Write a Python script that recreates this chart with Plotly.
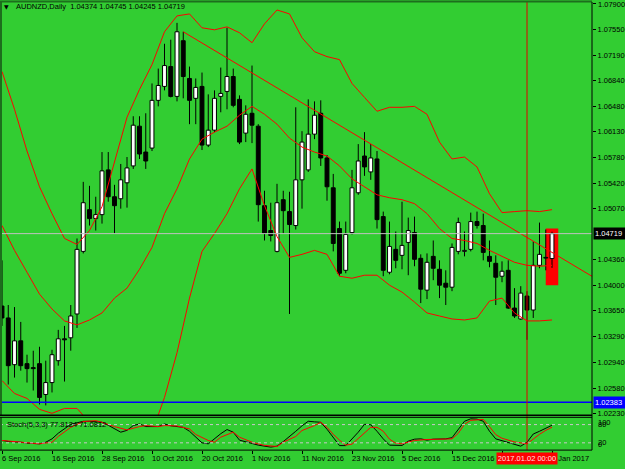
import plotly.graph_objects as go
import pandas as pd

# ---------------- data ----------------
dates = pd.bdate_range("2016-09-06", "2017-01-06")
bar_idx = list(range(len(dates)))

opens = [1.03716,1.03551,1.02904,1.03234,1.02918,1.02863,1.02918,1.02491,1.02656,1.02959,
         1.03262,1.03276,1.03606,1.04473,1.05051,1.04927,1.04982,1.05602,1.05230,1.05202,
         1.05423,1.05657,1.06207,1.05849,1.05904,1.06565,1.06758,1.07033,1.06620,1.07391,
         1.06868,1.06593,1.06758,1.05946,1.06152,1.06620,1.06689,1.06895,1.06579,1.06111,
         1.06386,1.06207,1.05106,1.04762,1.04473,1.05189,1.05024,1.04831,1.05464,1.05602,
         1.06097,1.06386,1.05767,1.05354,1.04789,1.04211,1.04734,1.05285,1.05794,1.05574,
         1.05753,1.04955,1.04184,1.04501,1.04418,1.04597,1.04734,1.04377,1.03936,1.04404,
         1.04225,1.04032,1.03977,1.04473,1.04473,1.04501,1.04886,1.04831,1.04404,1.04308,
         1.04129,1.04211,1.03688,1.03537,1.03854,1.03661,1.04280,1.04390,1.04374]
highs = [1.04349,1.03730,1.03702,1.03496,1.03042,1.03097,1.03152,1.02959,1.03110,1.03386,
         1.03441,1.03730,1.04652,1.05436,1.05381,1.05230,1.05849,1.05849,1.05395,1.05684,
         1.05780,1.06345,1.06345,1.06386,1.06799,1.07005,1.07349,1.07405,1.07638,1.07515,
         1.07033,1.06868,1.06950,1.06648,1.06703,1.07019,1.07570,1.07005,1.06634,1.06496,
         1.07047,1.06235,1.05313,1.05147,1.05409,1.05313,1.05299,1.06469,1.06138,1.06579,
         1.06551,1.06565,1.05808,1.05546,1.04886,1.04886,1.05602,1.05959,1.06125,1.05959,
         1.05863,1.05024,1.04886,1.04748,1.05161,1.04941,1.04955,1.04432,1.04445,1.04624,
         1.04349,1.04211,1.04583,1.04941,1.04748,1.05010,1.05024,1.04996,1.04624,1.04418,
         1.04335,1.04349,1.03964,1.03991,1.03922,1.04611,1.04872,1.04776,1.04745]
lows = [1.03441,1.02629,1.02725,1.02821,1.02656,1.02546,1.02353,1.02340,1.02519,1.02890,
        1.02670,1.03097,1.03413,1.04445,1.04831,1.04762,1.04858,1.05161,1.04721,1.05065,
        1.05079,1.05615,1.05753,1.05615,1.05863,1.06482,1.06703,1.06606,1.06551,1.06593,
        1.06235,1.06235,1.05877,1.05918,1.06125,1.06400,1.06441,1.06469,1.05959,1.05987,
        1.05973,1.04886,1.04624,1.04611,1.04459,1.04721,1.03606,1.04776,1.05065,1.05574,
        1.06028,1.05657,1.05175,1.04473,1.04129,1.04170,1.04707,1.05257,1.05519,1.05464,
        1.04789,1.04129,1.04156,1.04239,1.04225,1.04143,1.04267,1.03757,1.03812,1.04074,
        1.03826,1.03730,1.03922,1.04432,1.04404,1.04473,1.04789,1.04349,1.04253,1.03730,
        1.04046,1.03675,1.03551,1.03523,1.03248,1.03551,1.04239,1.04211,1.04245]
closes = [1.03551,1.02890,1.03234,1.02890,1.02849,1.02849,1.02450,1.02656,1.03042,1.03262,
          1.03248,1.03578,1.04501,1.05147,1.04927,1.04982,1.05588,1.05230,1.05106,1.05464,
          1.05629,1.06221,1.05822,1.05725,1.06565,1.06771,1.07047,1.06620,1.07515,1.06895,
          1.06565,1.06744,1.05946,1.06152,1.06593,1.06661,1.06895,1.06496,1.05987,1.06372,
          1.06221,1.05120,1.04721,1.04693,1.05147,1.05037,1.04845,1.05464,1.05987,1.06097,
          1.06359,1.05767,1.05368,1.04583,1.04170,1.04707,1.05354,1.05725,1.05643,1.05767,
          1.04913,1.04211,1.04542,1.04349,1.04556,1.04762,1.04363,1.03950,1.04322,1.04239,
          1.04005,1.03977,1.04528,1.04872,1.04487,1.04886,1.04831,1.04459,1.04335,1.04115,
          1.04198,1.03688,1.03578,1.03895,1.03661,1.04280,1.04432,1.04380,1.04719]

band_idx = list(range(0, 89, 2))
bb_upper = [1.06964,1.06441,1.05863,1.05368,1.04996,1.04652,1.04569,1.04762,1.05092,1.05725,
            1.06331,1.06716,1.07060,1.07515,1.07735,1.07762,1.07570,1.07542,1.07583,1.07501,
            1.07363,1.07625,1.07817,1.07762,1.07432,1.07239,1.07171,1.07129,1.06799,1.06606,
            1.06414,1.06469,1.06469,1.06482,1.06372,1.05987,1.05753,1.05780,1.05643,1.05271,
            1.05010,1.05024,1.05037,1.05024,1.05051]
bb_middle = [1.04831,1.04487,1.04184,1.03881,1.03675,1.03510,1.03455,1.03523,1.03620,1.03826,
             1.03964,1.04225,1.04528,1.04996,1.05340,1.05753,1.06028,1.06125,1.06207,1.06359,
             1.06482,1.06372,1.06235,1.06042,1.05918,1.05849,1.05794,1.05657,1.05478,1.05368,
             1.05257,1.05216,1.05189,1.05134,1.04996,1.04789,1.04652,1.04624,1.04583,1.04487,
             1.04404,1.04322,1.04280,1.04267,1.04280]
bb_lower = [1.02684,1.02505,1.02436,1.02285,1.02230,1.02298,1.02298,1.02106,1.01968,1.01831,
            1.01693,1.01734,1.01968,1.02450,1.03069,1.03826,1.04473,1.04721,1.04996,1.05340,
            1.05615,1.05106,1.04679,1.04390,1.04432,1.04487,1.04432,1.04129,1.04101,1.04143,
            1.04143,1.04005,1.03909,1.03771,1.03620,1.03578,1.03537,1.03523,1.03551,1.03785,
            1.03826,1.03620,1.03510,1.03510,1.03523]

stoch_k_idx = [0,1,3,4,6,7,8,9,11,13,14,16,17,19,20,21,22,23,25,26,27,29,30,31,32,33,34,35,36,37,
               38,40,41,43,44,45,46,47,48,49,50,51,52,53,54,55,56,57,58,59,60,61,62,64,65,66,67,
               68,69,71,72,73,74,75,76,77,78,79,80,81,82,83,84,85,86,87,88]
stoch_k = [27.8,24.5,22,19,16.7,22,33,51.6,81,90.8,90.8,87.6,77.8,55,61,76.8,82,73.5,73.5,82,
           76,71,58,38.6,20,16.7,35,50,63.7,55,28.8,16.7,12.4,5.9,9,24,40,58,76,91,
           89,87.6,64.7,38.6,10.8,10.8,32,55,81,79.4,58,33,12.4,11.4,25.5,32,33,28.8,32,33,
           37,64.7,91,99,98,91,58,33,27,19,14,9,22,49,58,68,77.8124]
stoch_d_idx = [0,3,6,8,9,11,13,15,16,18,20,22,23,25,26,28,30,31,33,34,35,37,38,40,42,44,45,47,48,50,
               51,52,53,54,55,56,57,58,59,60,61,62,63,64,66,68,70,72,73,74,75,77,78,79,80,82,84,
               85,86,87,88]
stoch_d = [27.8,22,16.7,22,41,71,90,93,87.6,73.5,62.4,73.5,76.8,73.5,76.8,75.5,65.7,47.4,27.8,22,
           38.6,55,38.6,22,11.4,8,22,41,60.5,76.8,87.6,71,48,28.8,12.4,15.7,35,55,71,71,
           58,32,19,16.7,27.8,31,33,33,51.6,81,94,97,73,47,35,23,16.7,33,48,61,71.0812]
stoch_levels = [80, 20]

trend_idx = [29, 88]
trend_price = [1.07515, 1.04459]

current_price = 1.04719
blue_level = 1.02383
rect_idx = [87, 89]
rect_price = [1.04005, 1.04789]
vline_idx = 84
vline_label = "2017.01.02 00:00"

price_ticks = [1.07900, 1.07550, 1.07190, 1.06840, 1.06480, 1.06130, 1.05780, 1.05420, 1.05070,
               1.04360, 1.04000, 1.03650, 1.03290, 1.02940, 1.02580, 1.02230]
date_tick_idx = [0, 8, 16, 24, 32, 40, 48, 56, 64, 72, 80, 88]
date_tick_text = ["6 Sep 2016", "16 Sep 2016", "28 Sep 2016", "10 Oct 2016", "20 Oct 2016",
                  "1 Nov 2016", "11 Nov 2016", "23 Nov 2016", "5 Dec 2016", "15 Dec 2016",
                  "", "6 Jan 2017"]   # the 27 Dec label is hidden under the crosshair date box
title_text = "AUDNZD,Daily  1.04374 1.04745 1.04245 1.04719"
stoch_text = "Stoch(5,3,3) 77.8124 71.0812"

# ---------------- geometry ----------------
W, H = 625, 469
RIGHT = 592
MAIN_TOP, MAIN_BOT = 2, 418
SUB_TOP, SUB_BOT = 420, 453
BAR_PX = 6.25
X0_PX = 2
PX_PER_PRICE = 7266.0
PRICE_AT_4 = 1.07900
STOCH_PX = 0.306
STOCH_ZERO_PX = 451.8

def px(x):
    return x / W

def py(y):
    return 1 - y / H

x_range = [(0 - X0_PX) / BAR_PX, (RIGHT - X0_PX) / BAR_PX]
y_range = [PRICE_AT_4 - (MAIN_BOT - 4) / PX_PER_PRICE, PRICE_AT_4 + (4 - MAIN_TOP) / PX_PER_PRICE]
y2_range = [-(SUB_BOT - STOCH_ZERO_PX) / STOCH_PX, (STOCH_ZERO_PX - SUB_TOP) / STOCH_PX]

BG = "#32CD32"
FONT = "Liberation Sans"
FS = 7.5

fig = go.Figure()

# rectangle behind candles
fig.add_shape(type="rect", xref="x", yref="y", x0=rect_idx[0], x1=rect_idx[1],
              y0=rect_price[0], y1=rect_price[1], fillcolor="#FF0000", line_width=0, layer="below")

# wicks (outside the body only)
wx, wy = [], []
for i, o, h, l, c in zip(bar_idx, opens, highs, lows, closes):
    top, bot = max(o, c), min(o, c)
    wx += [i, i, None, i, i, None]
    wy += [top, h, None, l, bot, None]
fig.add_trace(go.Scatter(x=wx, y=wy, mode="lines", line=dict(color="black", width=1),
                         hoverinfo="skip", showlegend=False))

# bodies
base = [min(o, c) for o, c in zip(opens, closes)]
height = [max(abs(c - o), 0.00003) for o, c in zip(opens, closes)]
colors = ["white" if c >= o else "black" for o, c in zip(opens, closes)]
fig.add_trace(go.Bar(x=bar_idx, y=height, base=base, width=0.62, opacity=1,
                     marker=dict(color=colors, line=dict(color="black", width=1)),
                     hoverinfo="skip", showlegend=False))

# bollinger bands
for band in (bb_upper, bb_middle, bb_lower):
    fig.add_trace(go.Scatter(x=band_idx, y=band, mode="lines", line=dict(color="#FF0000", width=1),
                             hoverinfo="skip", showlegend=False))

# trend line (ray to the right)
slope = (trend_price[1] - trend_price[0]) / (trend_idx[1] - trend_idx[0])
tx = [trend_idx[0], x_range[1]]
ty = [trend_price[0], trend_price[0] + slope * (x_range[1] - trend_idx[0])]
fig.add_trace(go.Scatter(x=tx, y=ty, mode="lines", line=dict(color="#FF0000", width=1),
                         hoverinfo="skip", showlegend=False))

# stochastic
fig.add_trace(go.Scatter(x=stoch_k_idx, y=stoch_k, mode="lines", line=dict(color="black", width=1),
                         xaxis="x2", yaxis="y2", hoverinfo="skip", showlegend=False))
fig.add_trace(go.Scatter(x=stoch_d_idx, y=stoch_d, mode="lines", line=dict(color="#FF0000", width=1),
                         xaxis="x2", yaxis="y2", hoverinfo="skip", showlegend=False))

# horizontal lines
fig.add_shape(type="line", xref="paper", yref="y", x0=0, x1=px(RIGHT), y0=current_price, y1=current_price,
              line=dict(color="#C0C0C0", width=1))
fig.add_shape(type="line", xref="paper", yref="y", x0=0, x1=px(RIGHT), y0=blue_level, y1=blue_level,
              line=dict(color="#0000FF", width=1.5))
for lv in stoch_levels:
    fig.add_shape(type="line", xref="paper", yref="y2", x0=0, x1=px(RIGHT), y0=lv, y1=lv,
                  line=dict(color="#C8C8C8", width=1, dash="dot"))

# vertical line
fig.add_shape(type="line", xref="x", yref="paper", x0=vline_idx, x1=vline_idx,
              y0=py(SUB_BOT), y1=py(MAIN_TOP), line=dict(color="#E00000", width=1))

# frames
frame_dark = "#1d6e1d"
fig.add_shape(type="line", xref="paper", yref="paper", x0=px(1), x1=px(1), y0=py(MAIN_BOT), y1=py(MAIN_TOP),
              line=dict(color=frame_dark, width=2))
fig.add_shape(type="line", xref="paper", yref="paper", x0=px(1), x1=px(1), y0=py(SUB_BOT), y1=py(SUB_TOP),
              line=dict(color=frame_dark, width=2))
fig.add_shape(type="line", xref="paper", yref="paper", x0=0, x1=px(RIGHT), y0=py(1.5), y1=py(1.5),
              line=dict(color=frame_dark, width=2))
fig.add_shape(type="line", xref="paper", yref="paper", x0=0, x1=px(RIGHT), y0=py(MAIN_BOT), y1=py(MAIN_BOT),
              line=dict(color="black", width=1.5))
fig.add_shape(type="line", xref="paper", yref="paper", x0=0, x1=px(RIGHT), y0=py(SUB_TOP), y1=py(SUB_TOP),
              line=dict(color="black", width=1))
fig.add_shape(type="line", xref="paper", yref="paper", x0=0, x1=px(RIGHT), y0=py(SUB_BOT), y1=py(SUB_BOT),
              line=dict(color="black", width=1))
fig.add_shape(type="line", xref="paper", yref="paper", x0=px(RIGHT), x1=px(RIGHT), y0=py(SUB_BOT), y1=py(MAIN_TOP),
              line=dict(color="black", width=1))

ann = []
# title
ann.append(dict(xref="paper", yref="paper", x=px(2), y=py(7), xanchor="left", yanchor="middle",
                text="▼", showarrow=False, font=dict(family="DejaVu Sans", size=6, color="black")))
ann.append(dict(xref="paper", yref="paper", x=px(14), y=py(7), xanchor="left", yanchor="middle",
                text=title_text, showarrow=False, font=dict(family=FONT, size=FS, color="black")))
ann.append(dict(xref="paper", yref="paper", x=px(5), y=py(427), xanchor="left", yanchor="middle",
                text=stoch_text, showarrow=False, font=dict(family=FONT, size=FS, color="black")))
# top price label (kept inside the page)
ann.append(dict(xref="paper", yref="paper", x=px(RIGHT + 4), y=py(5), xanchor="left", yanchor="middle",
                text=f"{price_ticks[0]:.5f}", showarrow=False, font=dict(family=FONT, size=FS, color="black")))
# date labels
for i, t in zip(date_tick_idx, date_tick_text):
    if not t:
        continue
    ann.append(dict(xref="x", yref="paper", x=i, y=py(461), xanchor="left", yanchor="middle",
                    text=t, showarrow=False, xshift=-2, font=dict(family=FONT, size=FS, color="black")))
# crosshair date label
ann.append(dict(xref="x", yref="paper", x=vline_idx, y=py(461), xanchor="center", yanchor="middle",
                text=vline_label, showarrow=False, bgcolor="#FF0000", borderpad=1, width=58,
                font=dict(family=FONT, size=FS, color="#FFE0E0")))
# price boxes
ann.append(dict(xref="paper", yref="y", x=px(RIGHT + 1), y=current_price, xanchor="left", yanchor="middle",
                text=f"{current_price:.5f}", showarrow=False, bgcolor="black", borderpad=1, width=30,
                align="left", font=dict(family=FONT, size=FS, color="white")))
ann.append(dict(xref="paper", yref="y", x=px(RIGHT + 1), y=blue_level, xanchor="left", yanchor="middle",
                text=f"{blue_level:.5f}", showarrow=False, bgcolor="#0000FF", borderpad=1, width=30,
                align="left", font=dict(family=FONT, size=FS, color="white")))
# stoch scale labels
for txt, v in (("100", 87), ("80", 80), ("20", 20), ("0", 14)):
    ann.append(dict(xref="paper", yref="y2", x=px(RIGHT + 4), y=v, xanchor="left", yanchor="middle",
                    text=txt, showarrow=False, font=dict(family=FONT, size=FS, color="black")))

fig.update_layout(
    width=W, height=H, margin=dict(l=0, r=0, t=0, b=0),
    paper_bgcolor=BG, plot_bgcolor=BG, barmode="overlay", showlegend=False,
    annotations=ann,
    xaxis=dict(domain=[0, px(RIGHT)], range=x_range, anchor="y", showgrid=False, zeroline=False,
               showticklabels=False, ticks=""),
    yaxis=dict(domain=[py(MAIN_BOT), py(MAIN_TOP)], range=y_range, side="right", anchor="x",
               showgrid=False, zeroline=False, ticks="outside", ticklen=3, tickcolor="black",
               tickvals=price_ticks, ticktext=[f"{p:.5f}" for p in price_ticks],
               tickfont=dict(family=FONT, size=FS, color="black"), showline=False),
    xaxis2=dict(domain=[0, px(RIGHT)], range=x_range, anchor="y2", matches="x", showgrid=False,
                zeroline=False, showticklabels=False, ticks="outside", ticklen=3, tickcolor="black",
                tickvals=date_tick_idx),
    yaxis2=dict(domain=[py(SUB_BOT), py(SUB_TOP)], range=y2_range, anchor="x2", side="right",
                showgrid=False, zeroline=False, showticklabels=False, ticks=""),
)

fig.write_html("out.html")
